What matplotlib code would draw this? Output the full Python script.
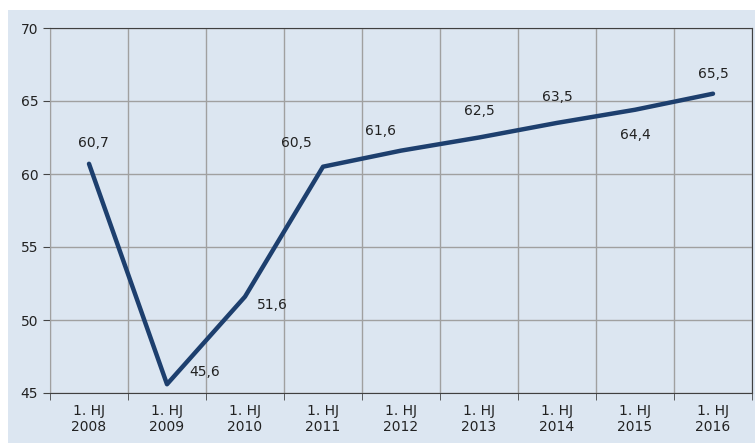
import matplotlib.pyplot as plt
from matplotlib.patches import Rectangle
import numpy as np

years = ['2008', '2009', '2010', '2011', '2012', '2013', '2014', '2015', '2016']
values = [60.7, 45.6, 51.6, 60.5, 61.6, 62.5, 63.5, 64.4, 65.5]
labels = ['60,7', '45,6', '51,6', '60,5', '61,6', '62,5', '63,5', '64,4', '65,5']
# label offsets in points (dx, dy)
offsets = [(3, 15), (27, 9), (20, -6), (-19, 17), (-15, 14), (0, 19), (0, 19), (0, -18), (0, 14)]

bg = '#dce6f1'
navy = '#1d3f6e'

fig = plt.figure(figsize=(7.55, 4.43), dpi=100)
fig.patches.append(Rectangle((8 / 755, 0), 1, 1 - 10 / 443, transform=fig.transFigure,
                             facecolor=bg, edgecolor='none', zorder=-1))
ax = fig.add_axes([50 / 755, 50 / 443, 702 / 755, 365 / 443])
ax.set_facecolor(bg)

x = np.arange(len(years))
ax.plot(x, values, color=navy, lw=3.2, solid_capstyle='round', solid_joinstyle='round', zorder=3)
for xi, v, t, (dx, dy) in zip(x, values, labels, offsets):
    ax.annotate(t, (xi, v), xytext=(dx, dy), textcoords='offset points',
                ha='center', va='center', fontsize=10, color='#222222')

ax.set_xlim(-0.5, len(years) - 0.5)
ax.set_ylim(45, 70)
ax.set_yticks([45, 50, 55, 60, 65, 70])
ax.set_xticks(x)
ax.set_xticklabels(['1. HJ\n' + y for y in years], fontsize=10, color='#222222')
ax.set_xticks(np.arange(-0.5, len(years)), minor=True)
ax.tick_params(axis='x', which='major', length=0, pad=8)
ax.tick_params(axis='x', which='minor', length=5, color='#444444')
ax.tick_params(axis='y', length=5, labelsize=10, labelcolor='#222222', color='#444444')
ax.grid(True, axis='y', color='#a0a0a0', lw=1)
ax.grid(True, axis='x', which='minor', color='#a0a0a0', lw=1)
for s in ['top', 'right']:
    ax.spines[s].set_color('#404040')
ax.spines['left'].set_color('#a0a0a0')
ax.spines['bottom'].set_color('#404040')

plt.savefig('out.png', dpi=100)
